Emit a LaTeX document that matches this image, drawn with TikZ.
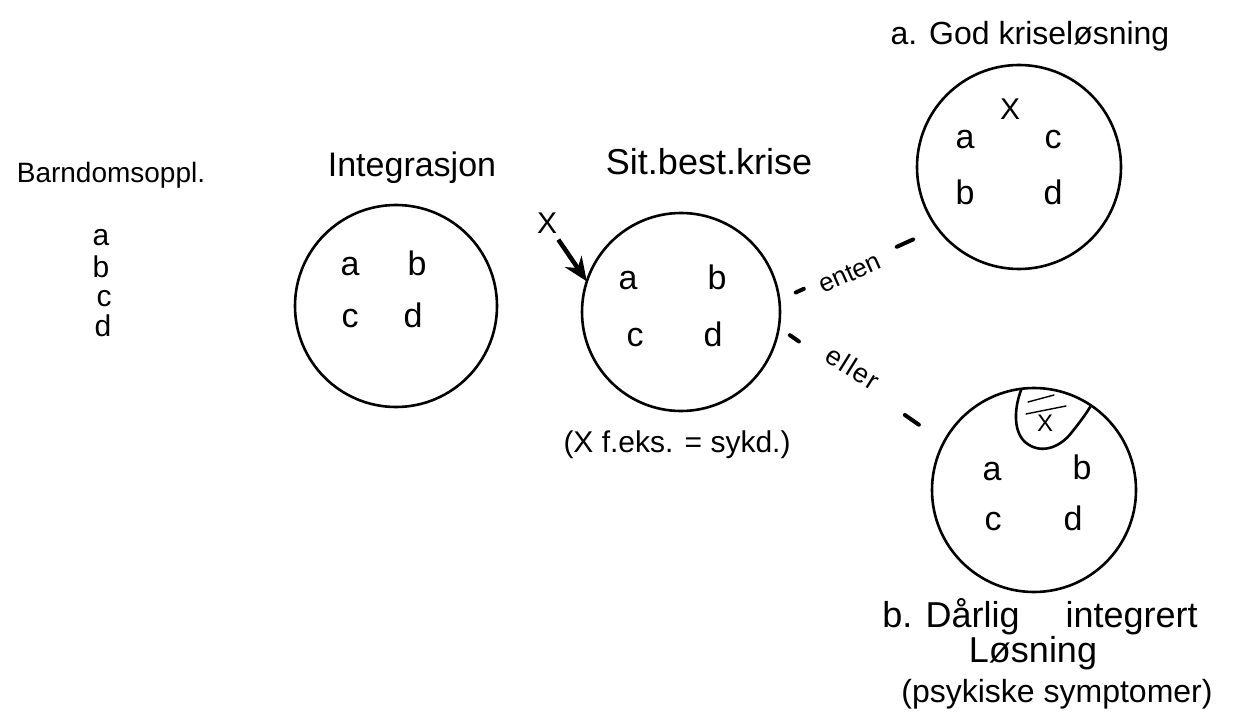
\documentclass[tikz,border=0pt]{standalone}
\usepackage{fontspec}
\setmainfont{Liberation Sans}
\usetikzlibrary{arrows.meta,calc}
\newcommand{\fs}[1]{\fontsize{#1}{#1}\selectfont}
\begin{document}
\begin{tikzpicture}[x=1pt,y=-1pt,
  ring/.style={draw,circle,line width=2.6pt,inner sep=0pt,outer sep=0pt},
  letter/.style={anchor=base,font=\fs{34},inner sep=0pt},
  listletter/.style={anchor=base,font=\fs{30},inner sep=0pt},
  title/.style={anchor=base,inner sep=0pt},
  hand/.style={line width=4pt,line cap=round},
  hatch/.style={line width=1.4pt,line cap=round}]
\useasboundingbox[fill=white] (0,0) rectangle (1242,722);

% left list
\node[title,font=\fs{28}] (barn) at (111,183) {Barndomsoppl.};
\node[listletter] (la) at (101,245) {a};
\node[listletter] (lb) at (101,277) {b};
\node[listletter] (lc) at (104,306) {c};
\node[listletter] (ld) at (103,336) {d};

% Integrasjon
\node[title,font=\fs{34}] (tint) at (412,177) {Integrasjon};
\node[ring,minimum size=202pt] (integ) at (396,306) {};
\node[letter] (ia) at (350,275) {a};
\node[letter] (ib) at (417,275) {b};
\node[letter] (ic) at (350,327) {c};
\node[letter] (id) at (413,327) {d};

% Sit. best. krise
\node[title,font=\fs{36}] (tsit) at (709,175) {Sit.best.krise};
\node[ring,minimum size=198pt] (sit) at (681,312) {};
\node[letter] (sa) at (628,289) {a};
\node[letter] (sb) at (717,289) {b};
\node[letter] (sc) at (635,346) {c};
\node[letter] (sd) at (713,346) {d};
\node[title,font=\fs{30}] (feks) at (677,452) {(X f.eks. = sykd.)};

% incoming X
\node[font=\fs{30},inner sep=2pt] (xin) at (547,223) {X};
\draw[line width=4.5pt,-{Stealth[length=24pt,width=20pt,fill=black!70]},shorten <=5pt] (xin) -- (sit.162);

% a. God kriseloesning
\node[title,font=\fs{32}] (tga) at (1030,45) {a. God kriseløsning};
\node[ring,minimum size=204pt] (ga) at (1019,167) {};
\node[letter,font=\fs{30}] (gx) at (1010,120) {X};
\node[letter] (gaa) at (965,149) {a};
\node[letter] (gac) at (1053,149) {c};
\node[letter] (gab) at (965,205) {b};
\node[letter] (gad) at (1053,205) {d};

% b. Daarlig integrert loesning
\node[ring,minimum size=204pt] (gb) at (1034,490) {};
\draw[line width=2.6pt] (gb.97) .. controls (1015,405) and (1012,430) .. (1025,442)
  .. controls (1040,455) and (1060,448) .. (1072,432)
  .. controls (1080,422) and (1086,414) .. (gb.56);
\draw[hatch] (1028,402) -- (1054,395);
\draw[hatch] (1026,414) -- (1066,406);
\node[font=\fs{24},inner sep=0pt] (bx) at (1045,423) {X};
\node[letter] (gba) at (992,480) {a};
\node[letter] (gbb) at (1082,479) {b};
\node[letter] (gbc) at (993,530) {c};
\node[letter] (gbd) at (1073,530) {d};
\node[title,font=\fs{36}] (tgb1) at (1040,627) {b. Dårlig\hspace{1em} integrert};
\node[title,font=\fs{36}] (tgb2) at (1033,662) {Løsning};
\node[title,font=\fs{32}] (tgb3) at (1057,702) {(psykiske symptomer)};

% enten / eller connectors
\draw[hand,dash pattern=on 9pt off 102pt on 18pt off 200pt,shorten <=18pt,shorten >=22pt] (sit.7) -- (ga.217);
\node[rotate=24,font=\fs{26},inner sep=0pt] (enten) at (850,273) {enten};
\draw[hand,dash pattern=on 11pt off 129pt on 17pt off 200pt,shorten <=13.5pt,shorten >=26.8pt] (sit.-9.2) -- (gb.152.2);
\node[rotate=-32,font=\fs{27}\addfontfeature{LetterSpace=6},inner sep=0pt] (eller) at (853,368) {eller};
\end{tikzpicture}
\end{document}
